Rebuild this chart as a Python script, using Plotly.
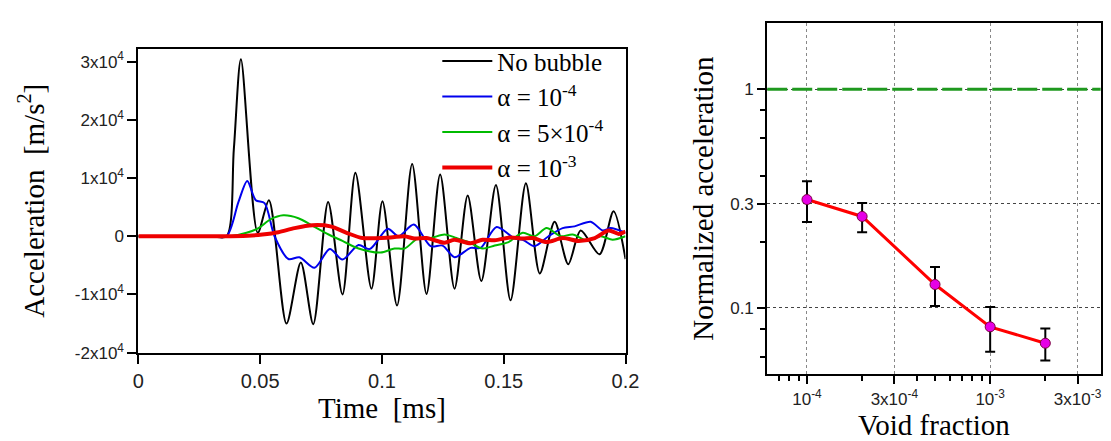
import plotly.graph_objects as go

# ---- left panel: acceleration time histories ----
t_nob = [0.0, 0.030, 0.0362, 0.0392, 0.0421, 0.049, 0.0536, 0.0608, 0.0667, 0.0718, 0.0779,
         0.0838, 0.0891, 0.0957, 0.1002, 0.1062, 0.1124, 0.1183, 0.1239, 0.1298, 0.1352,
         0.1408, 0.1468, 0.1528, 0.1591, 0.1648, 0.1709, 0.1765, 0.1816, 0.1893, 0.1951, 0.2]
a_nob = [0, 0, 0, 1.5e4, 3.04e4, 0.06e4, 0.62e4, -1.5e4, -0.45e4, -1.51e4, 0.59e4,
         -1.0e4, 1.09e4, -0.9e4, 0.6e4, -1.19e4, 1.24e4, -0.99e4, 1.06e4, -0.9e4, 0.7e4,
         -0.77e4, 0.88e4, -1.1e4, 0.91e4, -0.64e4, 0.25e4, -0.48e4, 0.1e4, -0.31e4, 0.43e4, -0.39e4]

t_a1 = [0.0, 0.030, 0.0362, 0.0411, 0.0447, 0.0482, 0.0518, 0.0559, 0.0616, 0.0661, 0.0723,
        0.0786, 0.0838, 0.0904, 0.095, 0.1024, 0.1068, 0.1131, 0.12, 0.1249, 0.1298, 0.1364,
        0.1405, 0.1471, 0.1545, 0.1578, 0.1627, 0.1684, 0.1742, 0.1791, 0.1857, 0.1906,
        0.1939, 0.2]
a_a1 = [0, 0, 0, 0.59e4, 0.95e4, 0.62e4, 0.57e4, 0, -0.39e4, -0.36e4, -0.54e4,
        -0.22e4, -0.4e4, -0.15e4, -0.22e4, 0.13e4, 0, 0.2e4, -0.17e4, -0.16e4, -0.36e4, -0.2e4,
        -0.2e4, 0.16e4, -0.04e4, -0.06e4, -0.17e4, 0, 0.14e4, 0.17e4, 0.25e4, 0.1e4,
        0.14e4, 0.06e4]

t_a5 = [0.0, 0.030, 0.0378, 0.0444, 0.0493, 0.0542, 0.0595, 0.0657, 0.0715, 0.0781, 0.0838,
        0.0904, 0.0994, 0.1052, 0.1093, 0.115, 0.12, 0.1257, 0.1306, 0.1356, 0.1413, 0.1463,
        0.152, 0.1578, 0.1627, 0.1676, 0.1734, 0.1783, 0.1841, 0.1898, 0.1947, 0.2]
a_a5 = [0, 0, 0, 0.06e4, 0.14e4, 0.29e4, 0.36e4, 0.31e4, 0.18e4, 0.03e4, -0.08e4,
        -0.21e4, -0.28e4, -0.21e4, -0.21e4, -0.03e4, -0.03e4, 0.03e4, -0.03e4, -0.1e4, -0.21e4, -0.16e4,
        -0.1e4, 0.06e4, 0, 0.14e4, 0, 0.03e4, -0.07e4, 0, -0.06e4, 0]

t_a10 = [0.0, 0.030, 0.045, 0.0509, 0.0575, 0.0641, 0.0715, 0.0789, 0.0855, 0.092, 0.1035,
         0.1093, 0.1134, 0.1183, 0.1257, 0.1298, 0.1364, 0.1413, 0.1463, 0.1528, 0.1578,
         0.1619, 0.1676, 0.1742, 0.1808, 0.1874, 0.1931, 0.1972, 0.2]
a_a10 = [0, 0, 0.01e4, 0.03e4, 0.07e4, 0.14e4, 0.19e4, 0.17e4, 0.06e4, -0.03e4, -0.02e4,
         0, -0.04e4, -0.03e4, -0.11e4, -0.06e4, -0.12e4, -0.06e4, -0.07e4, -0.02e4, -0.04e4,
         -0.03e4, -0.1e4, -0.03e4, -0.08e4, -0.03e4, 0.1e4, 0.04e4, 0.08e4]

acc_ticks = [-2e4, -1e4, 0, 1e4, 2e4, 3e4]
acc_labels = ["-2x10<sup>4</sup>", "-1x10<sup>4</sup>", "0", "1x10<sup>4</sup>",
              "2x10<sup>4</sup>", "3x10<sup>4</sup>"]
time_ticks = [0, 0.05, 0.1, 0.15, 0.2]
time_labels = ["0", "0.05", "0.1", "0.15", "0.2"]

# ---- right panel: normalized peak acceleration vs void fraction ----
void = [1e-4, 2e-4, 5e-4, 1e-3, 2e-3]
norm_acc = [0.313, 0.262, 0.128, 0.082, 0.069]
norm_err = [0.066, 0.040, 0.026, 0.019, 0.0115]
void_ticks = [1e-4, 3e-4, 1e-3, 3e-3]
void_labels = ["10<sup>-4</sup>", "3x10<sup>-4</sup>", "10<sup>-3</sup>", "3x10<sup>-3</sup>"]
void_minor = [7e-5, 8e-5, 9e-5, 2e-4, 4e-4, 5e-4, 6e-4, 7e-4, 8e-4, 9e-4, 2e-3]
norm_ticks = [0.1, 0.3, 1]
norm_labels = ["0.1", "0.3", "1"]
norm_minor = [0.06, 0.08, 0.2, 0.4, 0.6, 0.8]
reference_level = 1

SERIF = "Liberation Serif, Times New Roman, serif"
SANS = "Liberation Sans, Arial, sans-serif"

fig = go.Figure()

series = [
    (t_nob, a_nob, "No bubble", "black", 2),
    (t_a1, a_a1, "α = 10<sup>-4</sup>", "#0000ee", 2),
    (t_a5, a_a5, "α = 5×10<sup>-4</sup>", "#00bb00", 2),
    (t_a10, a_a10, "α = 10<sup>-3</sup>", "#ee0000", 4),
]
for i, (tx, ay, name, col, w) in enumerate(series):
    fig.add_trace(go.Scatter(
        x=tx, y=ay, mode="lines", name=name, legendgroup=str(i),
        line=dict(color=col, width=w, shape="spline", smoothing=0.8),
        xaxis="x", yaxis="y",
    ))

fig.add_trace(go.Scatter(
    x=void, y=norm_acc, mode="lines+markers", showlegend=False,
    line=dict(color="#ff0000", width=3),
    marker=dict(size=10, color="#e600e6", line=dict(color="#7a0040", width=1)),
    error_y=dict(type="data", array=norm_err, color="black", thickness=2, width=5),
    xaxis="x2", yaxis="y2",
))

# green dashed reference at 1
fig.add_shape(type="line", xref="x2 domain", x0=0, x1=1, yref="y2",
              y0=reference_level, y1=reference_level,
              line=dict(color="#1f991f", width=3, dash="20px,5px"))

axis_common = dict(showline=True, linecolor="black", linewidth=2, mirror=True,
                   ticks="outside", tickcolor="black", tickwidth=2, zeroline=False)
tick_small = dict(family=SANS, size=17, color="#222")
tick_big = dict(family=SANS, size=20, color="#222")
title_font = dict(family=SERIF, size=29, color="black")

fig.update_layout(
    width=1111, height=441,
    margin=dict(l=0, r=0, t=0, b=0),
    plot_bgcolor="white", paper_bgcolor="white",
    xaxis=dict(domain=[0.114, 0.5605], range=[0, 0.2], tickvals=time_ticks, ticktext=time_labels,
               ticklen=9, showgrid=False, tickfont=tick_big,
               title=dict(text="Time &nbsp;[ms]", font=title_font, standoff=4),
               **axis_common),
    yaxis=dict(domain=[0.2002, 0.9054], range=[-2e4, 3.22e4], tickvals=acc_ticks, ticktext=acc_labels,
               ticklen=9, showgrid=False, tickfont=tick_small,
               title=dict(text="Acceleration &nbsp;[m/s<sup>2</sup>]", font=title_font, standoff=22),
               **axis_common),
    xaxis2=dict(domain=[0.6904, 0.996], type="log", range=[-4.217, -2.397], anchor="y2",
                tickvals=void_ticks, ticktext=void_labels, ticklen=8, tickfont=tick_small,
                showgrid=True, gridcolor="#888", griddash="dot", gridwidth=1,
                minor=dict(tickvals=void_minor, ticks="outside", ticklen=5, tickcolor="black", tickwidth=1.5,
                           showgrid=False),
                title=dict(text="Void fraction", font=title_font, standoff=2),
                **axis_common),
    yaxis2=dict(domain=[0.1497, 0.966], type="log", range=[-1.304, 0.304], anchor="x2",
                tickvals=norm_ticks, ticktext=norm_labels, ticklen=8, tickfont=tick_small,
                showgrid=True, gridcolor="#444", griddash="dot", gridwidth=1,
                minor=dict(tickvals=norm_minor, ticks="outside", ticklen=5, tickcolor="black", tickwidth=1.5,
                           showgrid=False),
                title=dict(text="Normalized acceleration", font=title_font, standoff=8),
                **axis_common),
    legend=dict(x=0.388, xanchor="left", y=0.93, yanchor="top", bgcolor="rgba(0,0,0,0)",
                font=dict(family=SERIF, size=25, color="black"), tracegroupgap=0, itemwidth=50),
    showlegend=True,
)

fig.write_html("out.html")
